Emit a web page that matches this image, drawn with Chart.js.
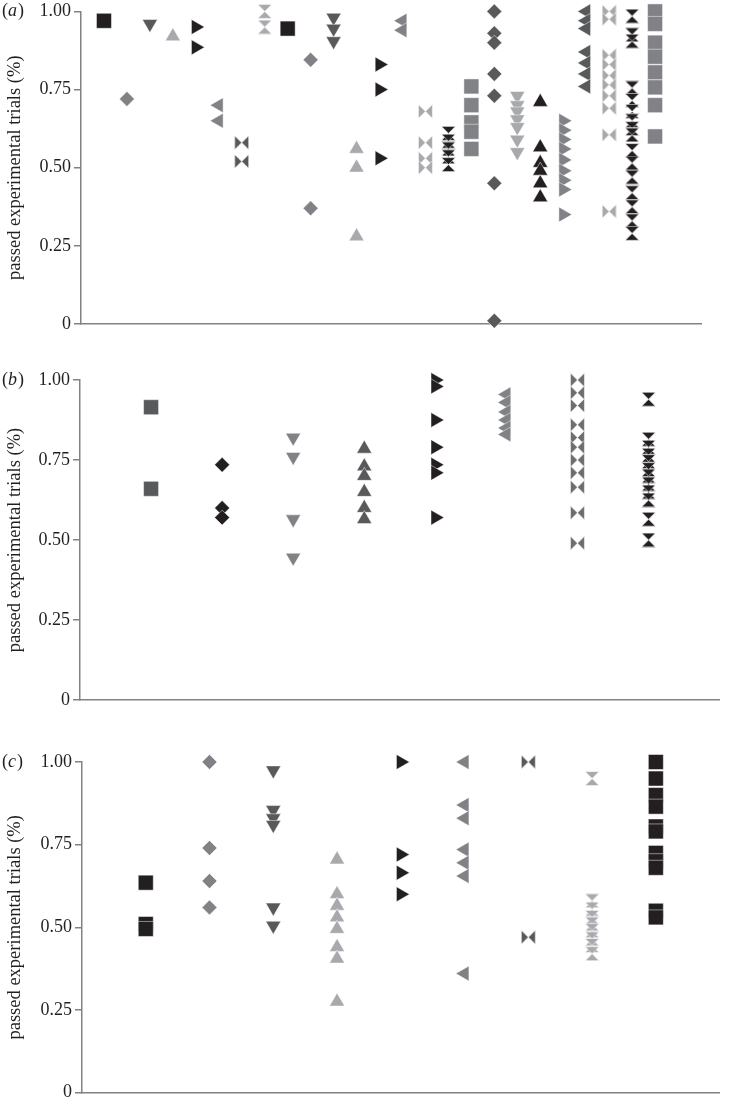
<!DOCTYPE html>
<html>
<head>
<meta charset="utf-8">
<script src="https://cdn.jsdelivr.net/npm/chart.js@4.4.0/dist/chart.umd.min.js"></script>
<style>
  body { margin: 0; background: #fff; }
  #wrap { position: relative; width: 731px; height: 1104px; }
  canvas { position: absolute; left: 0; }
</style>
</head>
<body>
<div id="wrap">
  <canvas id="chartA" width="731" height="340" style="top:0"></canvas>
  <canvas id="chartB" width="731" height="360" style="top:360px"></canvas>
  <canvas id="chartC" width="731" height="364" style="top:740px"></canvas>
</div>
<script>
// y axis ticks, same on all three panels
const yTickValues = [0, 0.25, 0.5, 0.75, 1];
const yTickLabels = ['0', '0.25', '0.50', '0.75', '1.00'];
const yTitle = 'passed experimental trials (%)';

// panel (a): values of each group, left to right
const groupsA = [
  [0.97],
  [0.72],
  [0.96],
  [0.92],
  [0.95, 0.885],
  [0.70, 0.65],
  [0.58, 0.52],
  [1.00, 0.95],
  [0.945],
  [0.845, 0.37],
  [0.98, 0.945, 0.905],
  [0.56, 0.50, 0.28],
  [0.83, 0.75, 0.53],
  [0.97, 0.94],
  [0.68, 0.58, 0.53, 0.50],
  [0.61, 0.585, 0.56, 0.535, 0.51],
  [0.76, 0.70, 0.645, 0.615, 0.56],
  [1.00, 0.93, 0.90, 0.80, 0.73, 0.45, 0.01],
  [0.73, 0.70, 0.68, 0.655, 0.63, 0.59, 0.55],
  [0.71, 0.565, 0.515, 0.49, 0.45, 0.405],
  [0.65, 0.62, 0.59, 0.56, 0.525, 0.49, 0.46, 0.43, 0.35],
  [1.00, 0.97, 0.945, 0.87, 0.835, 0.80, 0.76],
  [1.00, 0.975, 0.86, 0.83, 0.795, 0.765, 0.73, 0.69, 0.605, 0.36],
  [0.985, 0.925, 0.905, 0.755, 0.715, 0.68, 0.65, 0.625, 0.605, 0.555, 0.515, 0.47, 0.42, 0.375, 0.33, 0.29],
  [1.00, 0.96, 0.90, 0.855, 0.805, 0.757, 0.70, 0.60]
];

// panel (b)
const groupsB = [
  [0.915, 0.66],
  [0.735, 0.60, 0.57],
  [0.82, 0.76, 0.565, 0.445],
  [0.785, 0.73, 0.70, 0.65, 0.60, 0.565],
  [1.00, 0.98, 0.875, 0.79, 0.735, 0.71, 0.57],
  [0.955, 0.93, 0.90, 0.875, 0.85, 0.83],
  [1.00, 0.96, 0.92, 0.86, 0.82, 0.79, 0.75, 0.71, 0.665, 0.585, 0.49],
  [0.94, 0.815, 0.79, 0.765, 0.745, 0.72, 0.70, 0.675, 0.65, 0.625, 0.565, 0.50]
];

// panel (c)
const groupsC = [
  [0.635, 0.51, 0.495],
  [1.00, 0.74, 0.64, 0.56],
  [0.975, 0.855, 0.83, 0.81, 0.56, 0.505],
  [0.705, 0.60, 0.565, 0.53, 0.495, 0.44, 0.405, 0.275],
  [1.00, 0.72, 0.665, 0.60],
  [1.00, 0.87, 0.83, 0.735, 0.695, 0.655, 0.36],
  [1.00, 0.47],
  [0.95, 0.58, 0.555, 0.53, 0.51, 0.49, 0.465, 0.445, 0.42],
  [1.00, 0.95, 0.90, 0.865, 0.805, 0.79, 0.725, 0.70, 0.68, 0.55, 0.53]
];

// greys used for the markers
const K = '#231f20', D = '#58595b', G = '#808285', L = '#a7a9ac';
const colorsA = [K, G, D, L, K, G, D, L, K, G, D, L, K, G, L, K, G, D, L, K, G, D, L, K, G];
const colorsB = [D, K, G, D, K, G, '#6d6e71', K];
const colorsC = [K, G, D, L, K, G, D, L, K];

const FONT = '"Liberation Serif", "Times New Roman", Times, serif';

// marker shapes repeat in this order: square, diamond, down, up, right, left, bowtie, hourglass
const shapes = [
  { style: 'rect', rotation: 0, radius: 10.6 },
  { style: 'rectRot', rotation: 0, radius: 7.5 },
  { style: 'triangle', rotation: 180, radius: 8.7 },
  { style: 'triangle', rotation: 0, radius: 8.7 },
  { style: 'triangle', rotation: 90, radius: 8.7 },
  { style: 'triangle', rotation: 270, radius: 8.7 },
  { style: 'hourglass', rotation: 90, radius: 8 },
  { style: 'hourglass', rotation: 0, radius: 8 }
];

// small canvas used as an hourglass point style (rotated 90deg it becomes a bowtie)
function hourglass(color, size) {
  const c = document.createElement('canvas');
  c.width = size;
  c.height = size;
  const g = c.getContext('2d');
  g.fillStyle = color;
  g.strokeStyle = 'rgba(255,255,255,0.7)';
  g.lineWidth = 0.8;
  g.beginPath();
  g.moveTo(0.5, 0.5);
  g.lineTo(size - 0.5, 0.5);
  g.lineTo(size / 2, size / 2);
  g.closePath();
  g.moveTo(size / 2, size / 2);
  g.lineTo(size - 0.5, size - 0.5);
  g.lineTo(0.5, size - 0.5);
  g.closePath();
  g.fill();
  g.stroke();
  return c;
}

function buildDatasets(groups, colors) {
  return groups.map((vals, i) => {
    const s = shapes[i % 8];
    return {
      data: vals.map(v => ({ x: i + 1, y: v })),
      showLine: false,
      clip: false,
      pointStyle: s.style === 'hourglass' ? hourglass(colors[i], 15) : s.style,
      pointRotation: s.rotation,
      pointRadius: s.radius,
      pointBackgroundColor: colors[i],
      pointBorderColor: 'rgba(255,255,255,0.6)',
      pointBorderWidth: 0.8
    };
  });
}

// "(a)" style panel letter next to the 1.00 tick
const panelLabel = {
  id: 'panelLabel',
  afterDraw(chart, args, opts) {
    const ctx = chart.ctx;
    const y = chart.scales.y.getPixelForValue(1);
    ctx.save();
    ctx.fillStyle = '#231f20';
    ctx.textBaseline = 'middle';
    let x = 2;
    ctx.font = '18px ' + FONT;
    ctx.fillText('(', x, y);
    x += ctx.measureText('(').width;
    ctx.font = 'italic 18px ' + FONT;
    ctx.fillText(opts.letter, x, y);
    x += ctx.measureText(opts.letter).width + 1;
    ctx.font = '18px ' + FONT;
    ctx.fillText(')', x, y);
    ctx.restore();
  }
};

function makeChart(id, groups, colors, letter, xMax, axisW, pad) {
  new Chart(document.getElementById(id), {
    type: 'scatter',
    data: { datasets: buildDatasets(groups, colors) },
    plugins: [panelLabel],
    options: {
      responsive: false,
      animation: false,
      events: [],
      devicePixelRatio: 1,
      layout: { padding: pad },
      plugins: {
        legend: { display: false },
        tooltip: { enabled: false },
        panelLabel: { letter: letter }
      },
      scales: {
        x: {
          type: 'linear',
          min: 0,
          max: xMax,
          grid: { display: false },
          border: { display: true, color: '#808285', width: 1.5 },
          ticks: { display: false },
          afterFit: s => { s.height = 0; s.paddingLeft = 0; s.paddingRight = 0; }
        },
        y: {
          min: 0,
          max: 1,
          grid: { display: true, drawOnChartArea: false, drawTicks: true, tickLength: 7, color: '#808285', lineWidth: 1.5 },
          border: { display: true, color: '#808285', width: 1.5 },
          ticks: {
            stepSize: 0.25,
            autoSkip: false,
            padding: 3,
            color: '#231f20',
            font: { family: FONT, size: 18 },
            callback: v => {
              const k = yTickValues.indexOf(v);
              return k >= 0 ? yTickLabels[k] : '';
            }
          },
          title: {
            display: true,
            text: yTitle,
            color: '#231f20',
            font: { family: FONT, size: 18.5 },
            padding: { top: 4, bottom: 0 }
          },
          afterFit: s => { s.width = axisW; s.paddingTop = 0; s.paddingBottom = 0; }
        }
      }
    }
  });
}

makeChart('chartA', groupsA, colorsA, 'a', 27, 81, { top: 11, bottom: 16, left: 0, right: 30 });
makeChart('chartB', groupsB, colorsB, 'b', 9, 80, { top: 20, bottom: 20, left: 0, right: 7 });
makeChart('chartC', groupsC, colorsC, 'c', 10, 82, { top: 22, bottom: 9, left: 0, right: 0 });
</script>
</body>
</html>
